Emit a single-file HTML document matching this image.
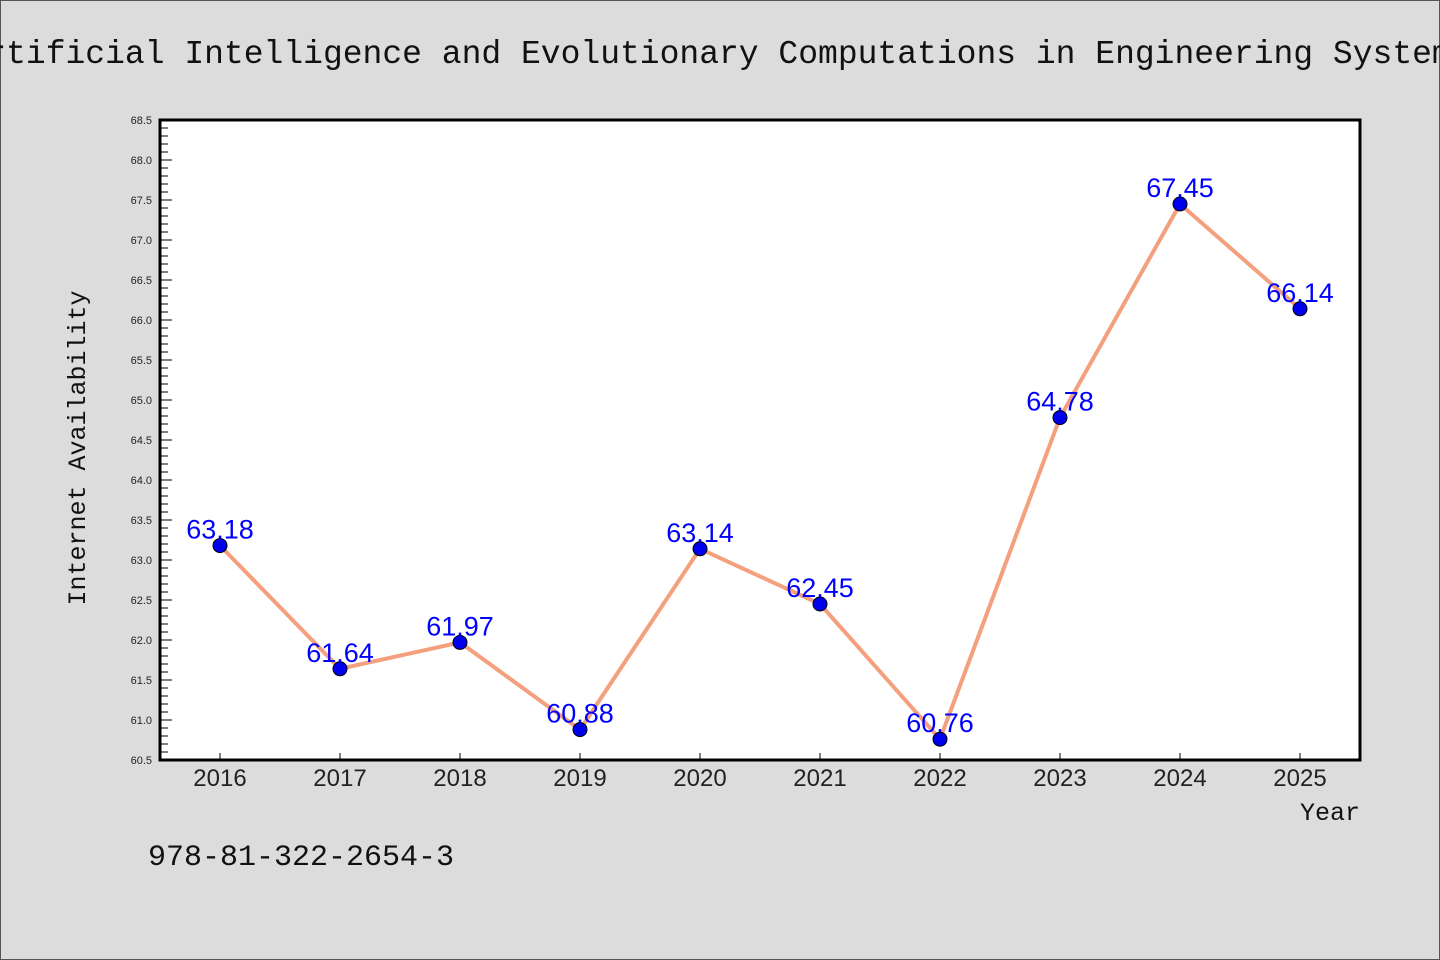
<!DOCTYPE html>
<html><head><meta charset="utf-8"><style>
body{margin:0;background:#dcdcdc;}
svg{display:block;font-family:"WenQuanYi Zen Hei","Liberation Sans",sans-serif;}
</style></head><body>
<svg id="chart" width="1440" height="960" xmlns="http://www.w3.org/2000/svg">
<rect x="0.5" y="0.5" width="1439" height="959" fill="#dcdcdc" stroke="#555"/>
<text x="719" y="63" text-anchor="middle" font-size="33" font-family="Liberation Mono, monospace" fill="#111">Artificial Intelligence and Evolutionary Computations in Engineering Systems</text>
<rect x="160" y="120" width="1200" height="640" fill="#fff"/>
<g id="ticks"></g>
<g id="series"></g>
<rect x="160" y="120" width="1200" height="640" fill="none" stroke="#000" stroke-width="3"/>
<text transform="translate(85,448) rotate(-90)" text-anchor="middle" font-size="25" font-family="Liberation Mono, monospace" fill="#111">Internet Availability</text>
<text x="1360" y="820" text-anchor="end" font-size="25" font-family="Liberation Mono, monospace" fill="#111">Year</text>
<text x="148" y="865" font-size="30" font-family="Liberation Mono, monospace" fill="#111">978-81-322-2654-3</text>
</svg>
<script>
const years = [2016,2017,2018,2019,2020,2021,2022,2023,2024,2025];
const values = [63.18,61.64,61.97,60.88,63.14,62.45,60.76,64.78,67.45,66.14];
const labels = ["63.18","61.64","61.97","60.88","63.14","62.45","60.76","64.78","67.45","66.14"];
const yMin = 60.5, yMax = 68.5;
const NS = "http://www.w3.org/2000/svg";
const xs = y => 160 + (y - 2015.5) * 120;
const ys = v => 760 - (v - yMin) / (yMax - yMin) * 640;
function mk(tag, attrs, parent){const e=document.createElementNS(NS,tag);for(const k in attrs)e.setAttribute(k,attrs[k]);parent.appendChild(e);return e;}
const tg = document.getElementById('ticks');
for (let i = 0; i <= 80; i++) {
  const v = yMin + i * 0.1, y = ys(v), major = i % 5 === 0;
  const t = mk('line', {x1:160, x2:160 + (major ? 12 : 8), y1:y, y2:y, stroke:'#000', 'stroke-width':1}, tg);
  
  
  if (major) {
    const l = mk('text', {x:152, y:y + 4, 'text-anchor':'end', 'font-size':11, fill:'#222'}, tg);
    l.textContent = v.toFixed(1);
    
    
  }
}
years.forEach(yr => {
  const x = xs(yr);
  const t = mk('line', {x1:x, x2:x, y1:760, y2:753, stroke:'#000', 'stroke-width':1}, tg);
  
  
  const l = mk('text', {x:x, y:786, 'text-anchor':'middle', 'font-size':24, fill:'#222'}, tg);
  l.textContent = yr;
  
  
});
const sg = document.getElementById('series');
const pts = years.map((yr, i) => xs(yr) + ',' + ys(values[i])).join(' ');
const line = mk('polyline', {points:pts, fill:'none', stroke:'#f4a07e', 'stroke-width':4, 'stroke-linejoin':'round'}, sg);


years.forEach((yr, i) => {
  const c = mk('circle', {cx:xs(yr), cy:ys(values[i]), r:7, fill:'#0000ee', stroke:'#000', 'stroke-width':1}, sg);
  
  
  const l = mk('text', {x:xs(yr), y:ys(values[i]) - 7, 'text-anchor':'middle', 'font-size':27, fill:'#0000ff'}, sg);
  l.textContent = labels[i];
  
  
});
</script>
</body></html>
